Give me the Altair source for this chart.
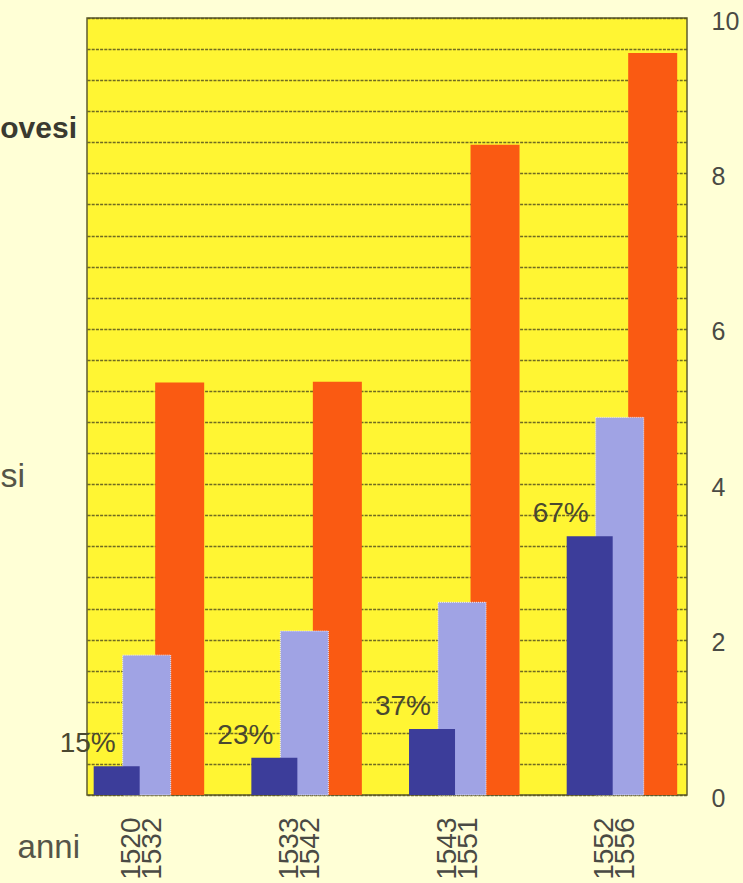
import altair as alt
import pandas as pd

# ---- data ----
periods = ["1520\n1532", "1533\n1542", "1543\n1551", "1552\n1556"]
dark_vals = [0.37, 0.48, 0.85, 3.33]
light_vals = [1.80, 2.11, 2.48, 4.86]
orange_vals = [5.31, 5.32, 8.37, 9.55]
pct_labels = ["15%", "23%", "37%", "67%"]
y_labels = [0, 2, 4, 6, 8, 10]
grid_values = [round(i * 0.4, 1) for i in range(26)]
legend_texts = ["ovesi", "si", "anni"]

df = pd.DataFrame({
    "period": periods,
    "dark": dark_vals,
    "light": light_vals,
    "orange": orange_vals,
    "pct": pct_labels,
})

x_scale = alt.Scale(type="point", padding=0.4027, align=0.47)
x_axis = alt.Axis(
    title=None, labelAngle=270, labelExpr="split(datum.label, '\\n')",
    labelFontSize=28, labelLineHeight=21, labelPadding=22, labelOffset=-15,
    ticks=False, domain=False, grid=False, labelColor="#4a4a44",
    labelFont="Liberation Sans",
)
x_enc = alt.X("period:N", sort=periods, scale=x_scale, axis=x_axis)

y_scale = alt.Scale(domain=[0, 10], nice=False, zero=True)

# grid-only axis (every 0.4)
grid_axis = alt.Axis(
    title=None, orient="left", values=grid_values, grid=True, ticks=False,
    domain=False, labels=False,
    gridColor="#57521f", gridDash=[3, 1.2], gridWidth=1.4, gridOpacity=0.85,
)
# label-only axis on the right
label_axis = alt.Axis(
    title=None, orient="right", values=y_labels, grid=False, ticks=False,
    domain=False, labelOverlap=False, format="d", labelOffset=3,
    labelFontSize=25, labelPadding=24, labelColor="#4a4a44",
    labelFont="Liberation Sans",
)

grid_layer = alt.Chart(df).mark_bar(opacity=0).encode(
    x=x_enc, y=alt.Y("orange:Q", scale=y_scale, axis=grid_axis)
)
orange = alt.Chart(df).mark_bar(width=49, xOffset=33, color="#FA5A12").encode(
    x=x_enc, y=alt.Y("orange:Q", scale=y_scale, axis=label_axis)
)
light = alt.Chart(df).mark_bar(
    width=48, xOffset=0, color="#A0A3E4", stroke="#ECECFF", strokeWidth=1,
    strokeDash=[1, 1]
).encode(x=x_enc, y=alt.Y("light:Q", scale=y_scale, axis=None))
dark = alt.Chart(df).mark_bar(width=46, xOffset=-30, color="#3C3D9A").encode(
    x=x_enc, y=alt.Y("dark:Q", scale=y_scale, axis=None)
)
pct = alt.Chart(df).mark_text(
    align="right", baseline="middle", xOffset=-31, dy=-22, fontSize=28,
    color="#4a4830", font="Liberation Sans"
).encode(x=x_enc, y=alt.Y("dark:Q", scale=y_scale, axis=None), text="pct:N")

leg_df = pd.DataFrame({"t": legend_texts})
t_ovesi = alt.Chart(leg_df).transform_filter(alt.datum.t == legend_texts[0]).mark_text(
    align="right", baseline="alphabetic", fontSize=30, fontWeight="bold",
    color="#3a3a30", font="Liberation Sans"
).encode(text="t:N", x=alt.value(-10), y=alt.value(120))
t_si = alt.Chart(leg_df).transform_filter(alt.datum.t == legend_texts[1]).mark_text(
    align="right", baseline="alphabetic", fontSize=34,
    color="#555548", font="Liberation Sans"
).encode(text="t:N", x=alt.value(-62), y=alt.value(469))
t_anni = alt.Chart(leg_df).transform_filter(alt.datum.t == legend_texts[2]).mark_text(
    align="right", baseline="alphabetic", fontSize=33,
    color="#555548", font="Liberation Sans"
).encode(text="t:N", x=alt.value(-7), y=alt.value(840))

chart = alt.layer(
    grid_layer, orange, light, dark, pct, t_ovesi, t_si, t_anni
).resolve_axis(y="independent").properties(
    width=600, height=777,
    autosize=alt.AutoSizeParams(type="none"),
    padding={"left": 87, "top": 18, "right": 56, "bottom": 88},
    background="#FFFFD6",
).configure_view(
    fill="#FFF533", stroke="#5f5c30", strokeWidth=1.5
)

chart.save("out.html", embed_options={"renderer": "svg", "actions": False})
